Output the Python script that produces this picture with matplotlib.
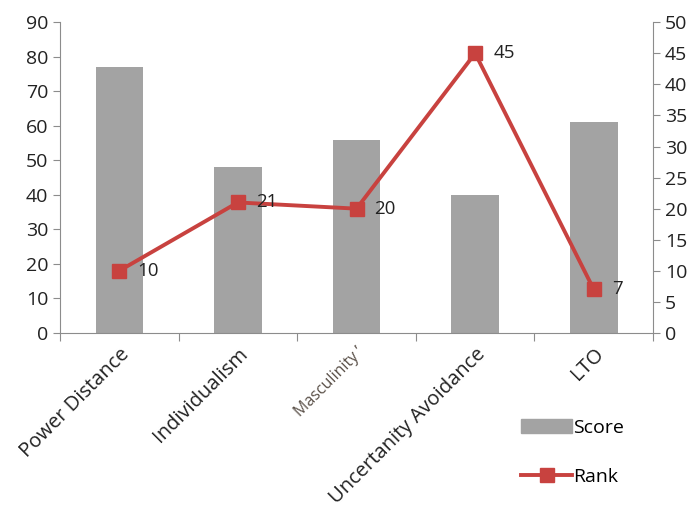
import matplotlib.pyplot as plt
import numpy as np
from matplotlib.patches import Patch
from matplotlib.lines import Line2D

plt.rcParams['font.family'] = ['Open Sans', 'DejaVu Sans']

categories = ['Power Distance', 'Individualism', 'Masculinity \u02bc', 'Uncertanity Avoidance', 'LTO']
score = [77, 48, 56, 40, 61]
rank = [10, 21, 20, 45, 7]

BAR_COLOR = '#a3a3a3'
LINE_COLOR = '#c8423f'
AXIS_COLOR = '#8c8c8c'
TEXT_COLOR = '#222222'

fig = plt.figure(figsize=(6.97, 5.17), dpi=100)
ax = fig.add_axes([0.086, 0.356, 0.851, 0.601])
ax2 = ax.twinx()

x = np.arange(len(categories))
ax.bar(x, score, width=0.4, color=BAR_COLOR, zorder=1)
ax2.plot(x, rank, color=LINE_COLOR, lw=2.8, marker='s', ms=10.5, zorder=3)

for xi, r in zip(x, rank):
    ax2.annotate(str(r), (xi, r), xytext=(13, 0), textcoords='offset points',
                 va='center', ha='left', fontsize=13.5, color=TEXT_COLOR)

ax.set_xlim(-0.5, len(categories) - 0.5)
ax.set_ylim(0, 90)
ax.set_yticks(range(0, 91, 10))
ax2.set_ylim(0, 50)
ax2.set_yticks(range(0, 51, 5))

# category ticks sit on the boundaries, labels on the centres
ax.set_xticks(np.arange(-0.5, len(categories), 1.0))
ax.set_xticklabels([])
ax.set_xticks(x, minor=True)
ax.set_xticklabels(categories, minor=True, rotation=45, ha='right',
                   rotation_mode='anchor', fontsize=14.5, color=TEXT_COLOR)
ax.tick_params(axis='x', which='minor', length=0, pad=8)
ax.tick_params(axis='x', which='major', length=6, color=AXIS_COLOR)
masc = ax.get_xticklabels(minor=True)[2]
masc.set_fontsize(11.5)
masc.set_color('#5a5048')

for a in (ax, ax2):
    a.spines['top'].set_visible(False)
    for s in ('left', 'right', 'bottom'):
        a.spines[s].set_color(AXIS_COLOR)
    a.tick_params(axis='y', length=5, color=AXIS_COLOR, labelsize=14,
                  labelcolor=TEXT_COLOR)
ax.spines['right'].set_visible(False)
ax2.spines['left'].set_visible(False)
ax2.spines['bottom'].set_visible(False)

handles = [Patch(color=BAR_COLOR, label='Score'),
           Line2D([], [], color=LINE_COLOR, lw=2.8, marker='s', ms=10.5, label='Rank')]
fig.legend(handles=handles, loc='upper left', bbox_to_anchor=(0.737, 0.205),
           frameon=False, fontsize=14, labelspacing=1.6, handlelength=2.6,
           handletextpad=0.05, borderaxespad=0)

fig.savefig('out.png', dpi=100)
